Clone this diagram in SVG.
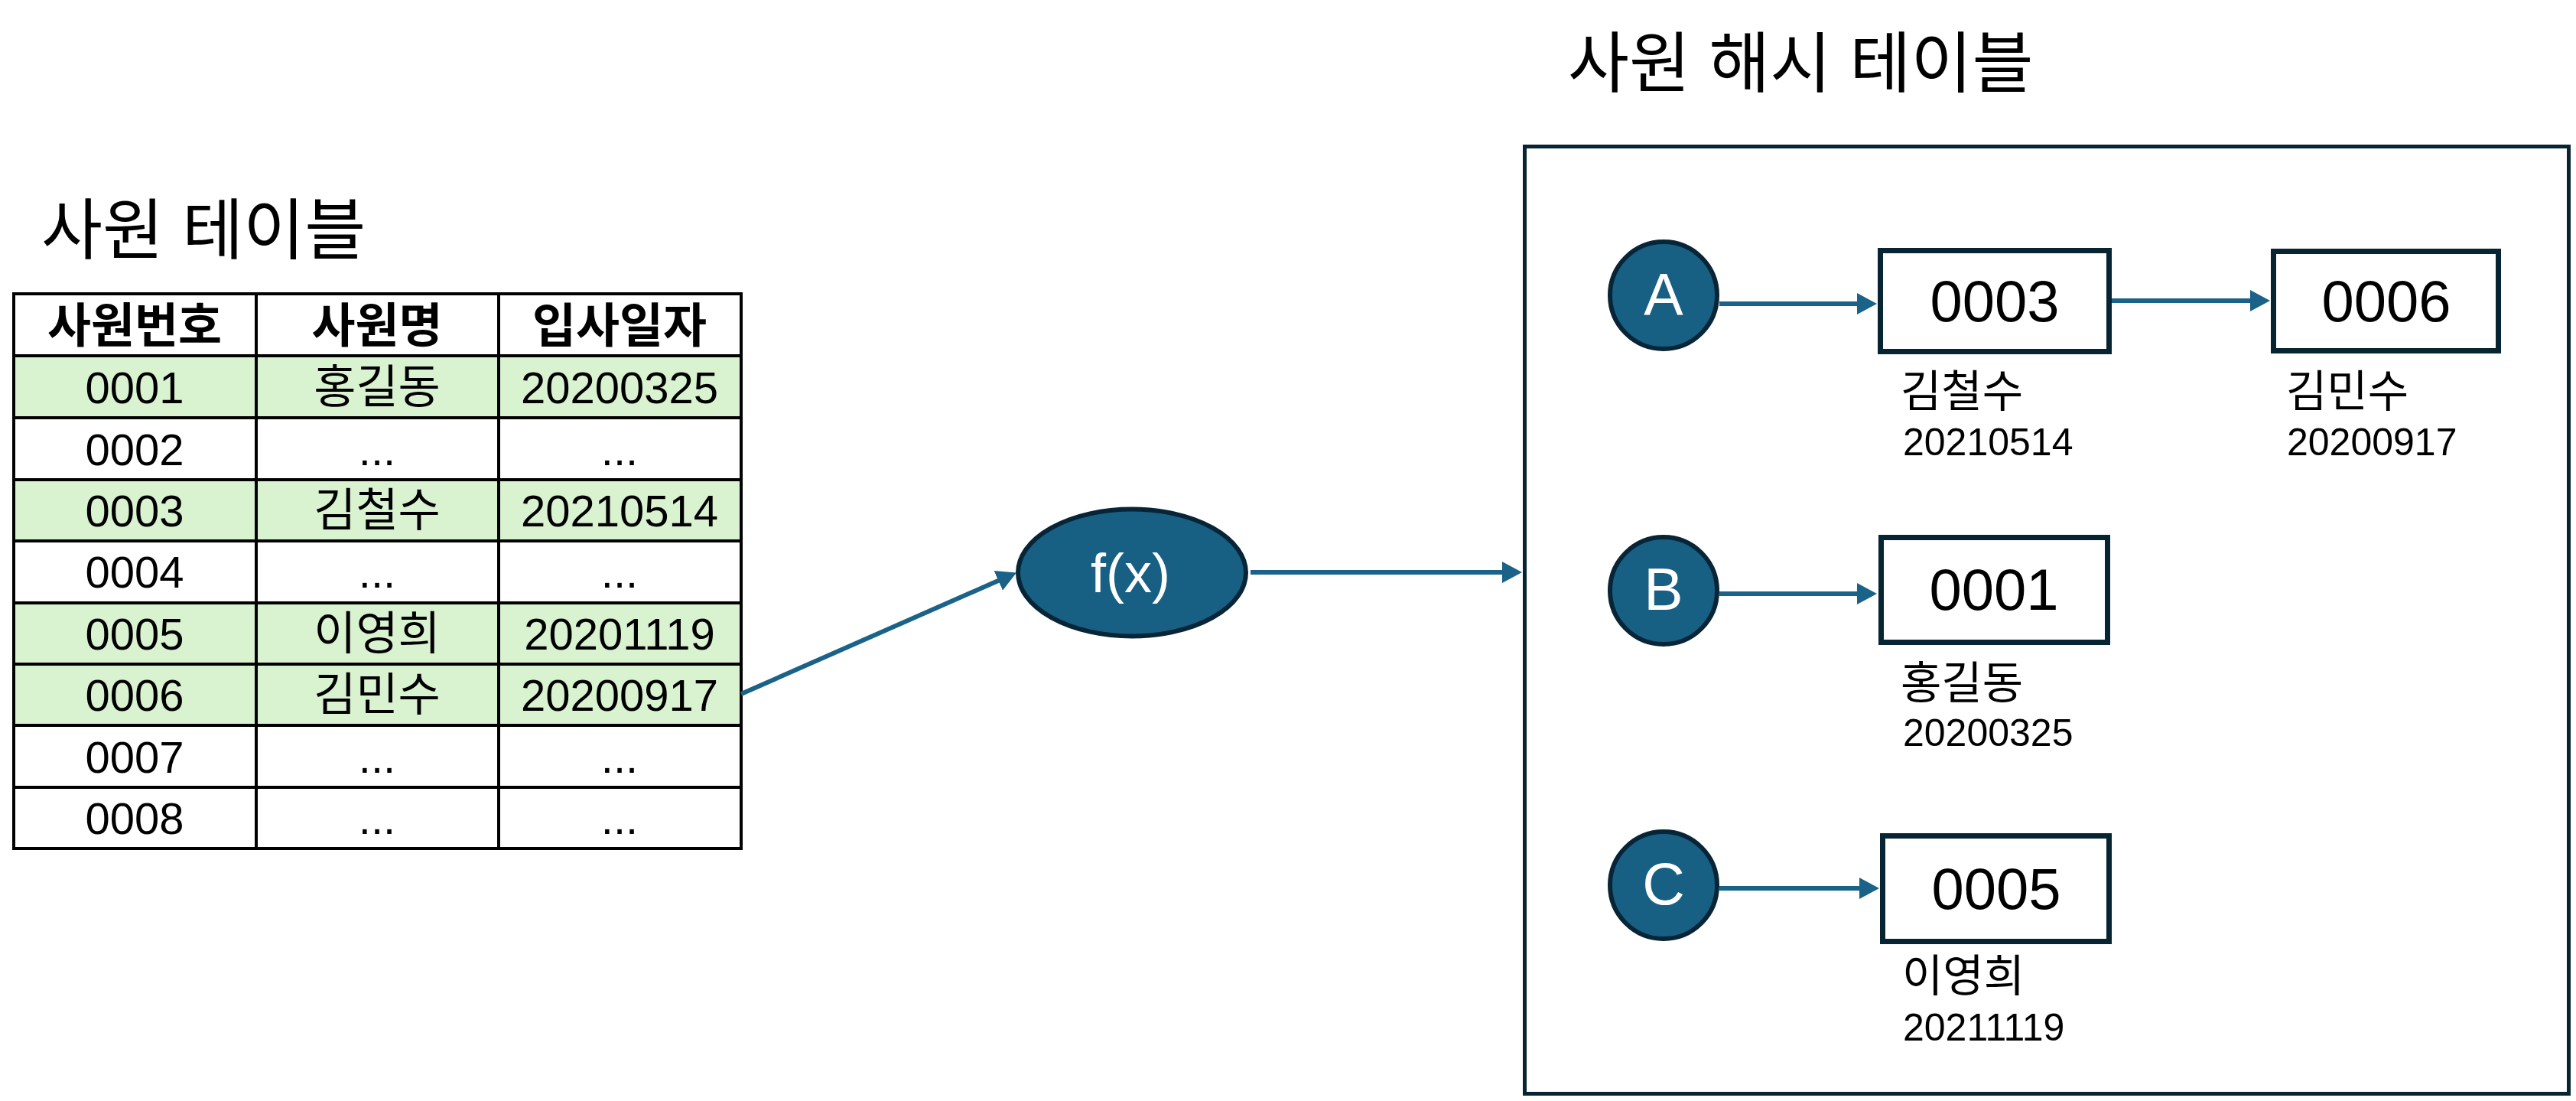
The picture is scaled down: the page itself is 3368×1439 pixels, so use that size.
<svg xmlns="http://www.w3.org/2000/svg" width="3368" height="1439" viewBox="0 0 3368 1439">
  <style>
    text { font-family: "Liberation Sans", "Noto Sans CJK KR", sans-serif; fill: #000; }
    .title { font-size: 87px; }
    .hdr { font-size: 62px; font-weight: bold; text-anchor: middle; }
    .num { font-size: 58px; text-anchor: middle; }
    .kor { font-size: 60px; text-anchor: middle; font-family: "Noto Sans CJK KR", sans-serif; }
    .grid { stroke: #000; stroke-width: 4; fill: none; }
    .green { fill: #D9F2D0; }
    .node { fill: #176083; stroke: #072536; stroke-width: 6; }
    .nodetxt { fill: #FFFFFF; font-size: 77px; text-anchor: middle; }
    .box { fill: #FFFFFF; stroke: #072433; stroke-width: 7; }
    .boxtxt { font-size: 76px; text-anchor: middle; }
    .lblk { font-size: 58px; font-family: "Noto Sans CJK KR", sans-serif; }
    .lbln { font-size: 50px; }
    .conn { stroke: #1A6288; stroke-width: 6; fill: none; marker-end: url(#arrow); }
  </style>
  <defs>
    <marker id="arrow" markerUnits="userSpaceOnUse" viewBox="0 0 26 28" markerWidth="26" markerHeight="28" refX="1" refY="14" orient="auto">
      <path d="M0,0 L26,14 L0,28 z" fill="#1A6288"/>
    </marker>
  </defs>
  <rect x="0" y="0" width="3368" height="1439" fill="#FFFFFF"/>

  <g id="title-employee-table">
    <text class="title" x="54" y="332">사원 테이블</text>
  </g>

  <g id="employee-table">
    <rect x="18" y="384" width="951" height="725" fill="#FFFFFF"/>
    <rect class="green" x="18" y="465" width="951" height="81"/>
    <rect class="green" x="18" y="627" width="951" height="80"/>
    <rect class="green" x="18" y="788" width="951" height="160"/>
    <rect class="grid" x="18" y="384" width="951" height="725"/>
    <line class="grid" x1="335" y1="384" x2="335" y2="1109"/>
    <line class="grid" x1="652" y1="384" x2="652" y2="1109"/>
    <line class="grid" x1="18" y1="465" x2="969" y2="465"/>
    <line class="grid" x1="18" y1="546" x2="969" y2="546"/>
    <line class="grid" x1="18" y1="627" x2="969" y2="627"/>
    <line class="grid" x1="18" y1="707" x2="969" y2="707"/>
    <line class="grid" x1="18" y1="788" x2="969" y2="788"/>
    <line class="grid" x1="18" y1="868" x2="969" y2="868"/>
    <line class="grid" x1="18" y1="948" x2="969" y2="948"/>
    <line class="grid" x1="18" y1="1029" x2="969" y2="1029"/>

    <text class="hdr" x="176" y="448">사원번호</text>
    <text class="hdr" x="493" y="448">사원명</text>
    <text class="hdr" x="810" y="448">입사일자</text>

    <text class="num" x="176" y="527">0001</text>
    <text class="kor" x="493" y="527">홍길동</text>
    <text class="num" x="810" y="527">20200325</text>

    <text class="num" x="176" y="608">0002</text>
    <text class="num" x="493" y="608">...</text>
    <text class="num" x="810" y="608">...</text>

    <text class="num" x="176" y="688">0003</text>
    <text class="kor" x="493" y="688">김철수</text>
    <text class="num" x="810" y="688">20210514</text>

    <text class="num" x="176" y="768">0004</text>
    <text class="num" x="493" y="768">...</text>
    <text class="num" x="810" y="768">...</text>

    <text class="num" x="176" y="849">0005</text>
    <text class="kor" x="493" y="849">이영희</text>
    <text class="num" x="810" y="849">20201119</text>

    <text class="num" x="176" y="929">0006</text>
    <text class="kor" x="493" y="929">김민수</text>
    <text class="num" x="810" y="929">20200917</text>

    <text class="num" x="176" y="1010">0007</text>
    <text class="num" x="493" y="1010">...</text>
    <text class="num" x="810" y="1010">...</text>

    <text class="num" x="176" y="1090">0008</text>
    <text class="num" x="493" y="1090">...</text>
    <text class="num" x="810" y="1090">...</text>
  </g>

  <g id="hash-function">
    <ellipse class="node" cx="1480" cy="748.5" rx="149" ry="83"/>
    <text class="nodetxt" x="1478" y="774" style="font-size:72px">f(x)</text>
  </g>

  <g id="title-hash-table">
    <text class="title" x="2050" y="114">사원 해시 테이블</text>
  </g>

  <g id="hash-table">
    <rect x="1993.5" y="191.5" width="1365" height="1238" fill="none" stroke="#072433" stroke-width="5"/>
  </g>

  <g id="bucket-A">
    <circle class="node" cx="2175" cy="386" r="70"/>
    <text class="nodetxt" x="2175" y="412">A</text>
  </g>
  <g id="bucket-B">
    <circle class="node" cx="2175" cy="772" r="70"/>
    <text class="nodetxt" x="2175" y="797">B</text>
  </g>
  <g id="bucket-C">
    <circle class="node" cx="2175" cy="1157" r="70"/>
    <text class="nodetxt" x="2175" y="1182">C</text>
  </g>

  <g id="entry-0003">
    <rect class="box" x="2458.5" y="327.5" width="299" height="132"/>
    <text class="boxtxt" x="2608" y="420">0003</text>
    <text class="lblk" x="2485" y="532">김철수</text>
    <text class="lbln" x="2488" y="595">20210514</text>
  </g>
  <g id="entry-0006">
    <rect class="box" x="2972.5" y="328.5" width="294" height="130"/>
    <text class="boxtxt" x="3120" y="420">0006</text>
    <text class="lblk" x="2989" y="532">김민수</text>
    <text class="lbln" x="2990" y="595">20200917</text>
  </g>
  <g id="entry-0001">
    <rect class="box" x="2459.5" y="702.5" width="296" height="137"/>
    <text class="boxtxt" x="2607" y="797">0001</text>
    <text class="lblk" x="2485" y="913">홍길동</text>
    <text class="lbln" x="2488" y="975">20200325</text>
  </g>
  <g id="entry-0005">
    <rect class="box" x="2461.5" y="1092.5" width="296" height="138"/>
    <text class="boxtxt" x="2610" y="1188">0005</text>
    <text class="lblk" x="2487" y="1296">이영희</text>
    <text class="lbln" x="2488" y="1360">20211119</text>
  </g>

  <g id="connectors">
    <line class="conn" x1="969" y1="907" x2="1306.2" y2="758.5"/>
    <line class="conn" x1="1635" y1="748" x2="1965" y2="748"/>
    <line class="conn" x1="2248" y1="397" x2="2429" y2="397"/>
    <line class="conn" x1="2761" y1="393" x2="2943" y2="393"/>
    <line class="conn" x1="2248" y1="776" x2="2429" y2="776"/>
    <line class="conn" x1="2248" y1="1161" x2="2432" y2="1161"/>
  </g>
</svg>
